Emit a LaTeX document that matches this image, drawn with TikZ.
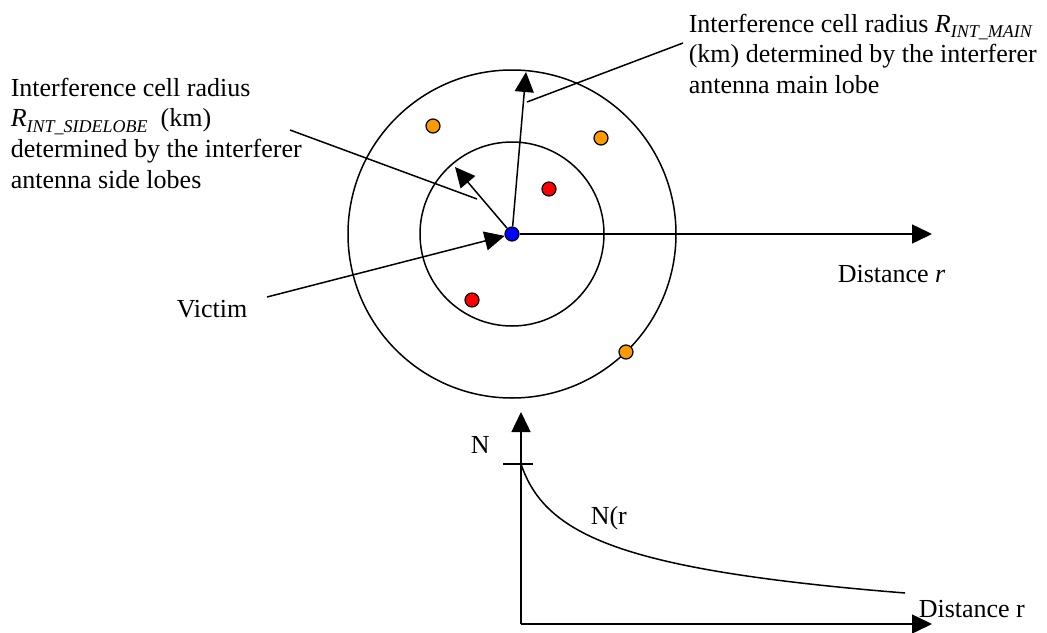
\documentclass[tikz,border=0pt]{standalone}
\usepackage{fontspec}
\setmainfont{Liberation Serif}
\usetikzlibrary{arrows.meta}

\definecolor{intorange}{RGB}{255,153,0}
\newcommand{\subtxt}[1]{\raisebox{-0.22em}{\fontsize{18}{18}\selectfont\itshape #1}}

\begin{document}
\begin{tikzpicture}[
        x=1pt, y=-1pt,
        line width=1.5pt,
        every node/.style={inner sep=0pt, font=\fontsize{26}{30.8}\selectfont},
        dot/.style={circle, draw, line width=1.2pt, minimum size=14pt},
        arrow/.style={-{Triangle[length=20pt, width=19pt]}},
        txt/.style={anchor=base west},
        textblock/.style={anchor=north west, align=left}
    ]
    \useasboundingbox (0,0) rectangle (1047,632);

    % Cells
    \node[dot, fill=blue] (victim) at (512,234) {};
    \draw (victim.center) circle[radius=92];
    \draw (victim.center) circle[radius=164];

    % Labels
    \node[textblock] (sidetext) at (10,77) {Interference cell radius\\
        \textit{R}\subtxt{INT\_SIDELOBE}\ \ (km)\\
        determined by the interferer\\
        antenna side lobes};
    \node[textblock] (maintext) at (688,13) {Interference cell radius \textit{R}\subtxt{INT\_MAIN}\\
        (km) determined by the interferer\\
        antenna main lobe};
    \node[txt] (victimtext) at (176,317) {Victim};
    \node[txt] (disttext) at (837,282) {Distance \textit{r}};

    % Arrows from the victim
    \coordinate (maintip) at (526,72);
    \coordinate (sidetip) at (455,167);
    \coordinate (disttip) at (932,234);
    \coordinate (victimfrom) at (267,297);
    \draw[arrow] (victim) -- (maintip);
    \draw[arrow] (victim) -- (sidetip);
    \draw[arrow] (victim) -- (disttip);
    \draw[arrow] (victimfrom) -- (victim);

    % Leader lines
    \coordinate (sidefrom) at (290,130);
    \coordinate (sideto) at (477,199);
    \coordinate (mainfrom) at (683,43);
    \coordinate (mainto) at (527,102);
    \draw (sidefrom) -- (sideto);
    \draw (mainfrom) -- (mainto);

    % Interferers
    \node[dot, fill=intorange] (int1) at (433,126) {};
    \node[dot, fill=intorange] (int2) at (601,138) {};
    \node[dot, fill=intorange] (int3) at (626,352) {};
    \node[dot, fill=red] (int4) at (549,189) {};
    \node[dot, fill=red] (int5) at (472,300) {};

    % Density graph
    \coordinate (origin) at (521,624);
    \coordinate (ntip) at (521,412);
    \coordinate (rtip) at (932,624);
    \coordinate (tickl) at (503,464);
    \coordinate (tickr) at (533,464);
    \coordinate (curveend) at (905,593);
    \draw[arrow] (origin) -- (ntip);
    \draw[arrow] (origin) -- (rtip);
    \draw (tickl) -- (tickr);
    \draw (521,464) .. controls (545,535) and (620,570) .. (curveend);
    \node[txt] (ntext) at (470,453) {N};
    \node[txt] (curvetext) at (590,524) {N(r};
    \node[txt] (rtext) at (918,617) {Distance r};

\end{tikzpicture}
\end{document}
